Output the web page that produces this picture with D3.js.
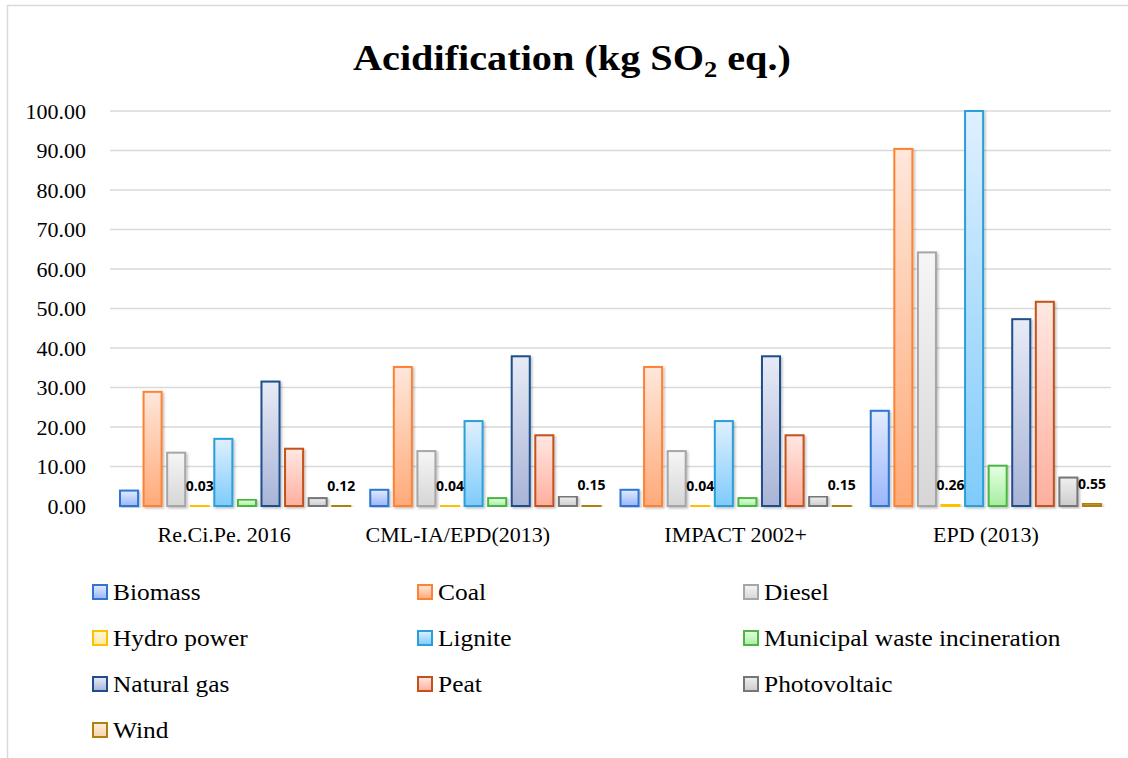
<!DOCTYPE html>
<html>
<head>
<meta charset="utf-8">
<script src="https://cdn.jsdelivr.net/npm/d3@7"></script>
<style>
  html, body { margin: 0; padding: 0; background: #fff; }
  svg { display: block; }
</style>
</head>
<body>
<svg id="chart" width="1128" height="758"></svg>
<script>
// ---------- data ----------
const categories = ["Re.Ci.Pe. 2016\u00a0\u00a0\u00a0\u00a0", "CML-IA/EPD(2013)\u00a0\u00a0\u00a0\u00a0\u00a0\u00a0\u00a0\u00a0\u00a0\u00a0", "IMPACT 2002+", "EPD (2013)"];
const seriesNames = ["Biomass", "Coal", "Diesel", "Hydro power", "Lignite", "Municipal waste incineration", "Natural gas", "Peat", "Photovoltaic", "Wind"];
const biomass      = [3.9, 4.1, 4.1, 24.1];
const coal         = [28.9, 35.2, 35.2, 90.4];
const diesel       = [13.5, 13.9, 13.9, 64.2];
const hydroPower   = [0.03, 0.04, 0.04, 0.26];
const lignite      = [17.0, 21.5, 21.5, 100.0];
const municipal    = [1.6, 2.0, 2.0, 10.2];
const naturalGas   = [31.5, 37.9, 37.9, 47.3];
const peat         = [14.5, 17.9, 17.9, 51.7];
const photovoltaic = [2.0, 2.4, 2.4, 7.2];
const wind         = [0.12, 0.15, 0.15, 0.55];
const yTicks = [0, 10, 20, 30, 40, 50, 60, 70, 80, 90, 100];
const labeledSeries = ["Hydro power", "Wind"];

const seriesValues = [biomass, coal, diesel, hydroPower, lignite, municipal, naturalGas, peat, photovoltaic, wind];

// colours: [stroke, gradient top, gradient bottom]
const palette = [
  ["#2f75d1", "#e2ebff", "#9ab6fb"],
  ["#ff8133", "#ffe7db", "#ffaa78"],
  ["#a6a6a6", "#f6f6f6", "#d6d6d6"],
  ["#ffc000", "#fff7dc", "#ffe9a0"],
  ["#2b9fd9", "#dff0ff", "#7fcbfb"],
  ["#4cb544", "#e6ffe2", "#a6eea0"],
  ["#1e4f8c", "#e8ebf6", "#a8b4d7"],
  ["#c2521a", "#ffe8e2", "#ffaf9e"],
  ["#767676", "#efefef", "#cdcdcd"],
  ["#b0800f", "#fdeedd", "#f7d2b0"]
];

const serifStack = "\"Palatino Linotype\", \"Book Antiqua\", Palatino, \"Liberation Serif\", serif";

// ---------- chart ----------
const svg = d3.select("#chart");
const defs = svg.append("defs");

palette.forEach((p, i) => {
  const g = defs.append("linearGradient").attr("id", "grad" + i)
    .attr("x1", 0).attr("y1", 0).attr("x2", 0).attr("y2", 1);
  g.append("stop").attr("offset", "0%").attr("stop-color", p[1]);
  g.append("stop").attr("offset", "100%").attr("stop-color", p[2]);
});
const f = defs.append("filter").attr("id", "shadow").attr("x", "-20%").attr("y", "-5%").attr("width", "150%").attr("height", "115%");
f.append("feDropShadow").attr("dx", 1.5).attr("dy", 1.5).attr("stdDeviation", 1.2)
  .attr("flood-color", "#000").attr("flood-opacity", 0.25);

// outer border
svg.append("rect").attr("x", 7.5).attr("y", 5.5).attr("width", 1140).attr("height", 780)
  .attr("fill", "none").attr("stroke", "#d9d9d9").attr("stroke-width", 1.5);

// title (horizontally widened to mimic Palatino proportions)
const title = svg.append("text")
  .attr("transform", "translate(572,70) scale(1.15,1)")
  .attr("text-anchor", "middle")
  .attr("font-size", 35).attr("font-weight", "bold").attr("fill", "#000")
  .style("font-family", serifStack);
title.append("tspan").text("Acidification (kg SO");
title.append("tspan").attr("font-size", 23).attr("dy", 7).text("2");
title.append("tspan").attr("dy", -7).text(" eq.)");

const x0 = d3.scaleBand().domain(categories).range([110, 1111]).paddingInner(0).paddingOuter(0);
const x1 = d3.scaleBand().domain(seriesNames).range([9, x0.bandwidth() - 9]).paddingInner(0.15).paddingOuter(0);
const y = d3.scaleLinear().domain([0, 100]).range([506, 111]);

// gridlines
svg.append("g").selectAll("line").data(yTicks.filter(d => d > 0)).join("line")
  .attr("x1", 110).attr("x2", 1111)
  .attr("y1", d => y(d)).attr("y2", d => y(d))
  .attr("stroke", "#d9d9d9").attr("stroke-width", 1.5);

// y axis labels
const yAxis = d3.axisLeft(y).tickValues(yTicks).tickFormat(d3.format(".2f")).tickSize(0).tickPadding(0);
const yg = svg.append("g").attr("transform", "translate(86,0)").call(yAxis);
yg.select(".domain").remove();
yg.selectAll("text").attr("font-size", 22).attr("fill", "#000").style("font-family", serifStack);

// bars
const groups = svg.append("g").selectAll("g").data(categories).join("g")
  .attr("transform", d => `translate(${x0(d)},0)`);

groups.selectAll("rect").data((c, ci) => seriesNames.map((s, si) => ({ s, si, v: seriesValues[si][ci] })))
  .join("rect")
  .attr("x", d => x1(d.s) + 1)
  .attr("width", x1.bandwidth() - 2)
  .attr("y", d => y(d.v))
  .attr("height", d => Math.max(0, y(0) - y(d.v)))
  .attr("fill", d => `url(#grad${d.si})`)
  .attr("stroke", d => palette[d.si][0])
  .attr("stroke-width", 2)
  .attr("filter", "url(#shadow)");

// baseline axis
svg.append("line").attr("x1", 110).attr("x2", 1111).attr("y1", y(0)).attr("y2", y(0))
  .attr("stroke", "#d0d0d0").attr("stroke-width", 1.5).attr("filter", "url(#shadow)");

// data labels
groups.selectAll("text.lbl")
  .data((c, ci) => seriesNames.map((s, si) => ({ s, si, v: seriesValues[si][ci] })).filter(d => labeledSeries.includes(d.s)))
  .join("text").attr("class", "lbl")
  .attr("x", d => x1(d.s) + x1.bandwidth() / 2)
  .attr("y", d => y(d.v) - 15)
  .attr("text-anchor", "middle")
  .attr("font-family", "'Open Sans', 'Liberation Sans', sans-serif")
  .attr("font-weight", "bold").attr("font-size", 14).attr("fill", "#000")
  .text(d => d3.format(".2f")(d.v));

// x axis labels
const xAxis = d3.axisBottom(x0).tickSize(0).tickPadding(0);
const xg = svg.append("g").attr("transform", "translate(0,526)").call(xAxis);
xg.select(".domain").remove();
xg.selectAll("text").attr("font-size", 22).attr("fill", "#000")
  .style("white-space", "pre")
  .style("font-family", serifStack);

// legend
const legendCols = [93, 418, 744];
const legend = svg.append("g").selectAll("g").data(seriesNames).join("g")
  .attr("transform", (d, i) => `translate(${legendCols[i % 3]},${592 + Math.floor(i / 3) * 46})`);
legend.append("rect").attr("x", 0).attr("y", -7).attr("width", 14).attr("height", 14)
  .attr("fill", (d, i) => `url(#grad${i})`)
  .attr("stroke", (d, i) => palette[i][0]).attr("stroke-width", 2);
legend.append("text").attr("transform", "translate(20,0) scale(1.13,1)").attr("dy", "0.35em")
  .attr("font-size", 22.5).attr("fill", "#000").style("font-family", serifStack).text(d => d);
</script>
</body>
</html>
